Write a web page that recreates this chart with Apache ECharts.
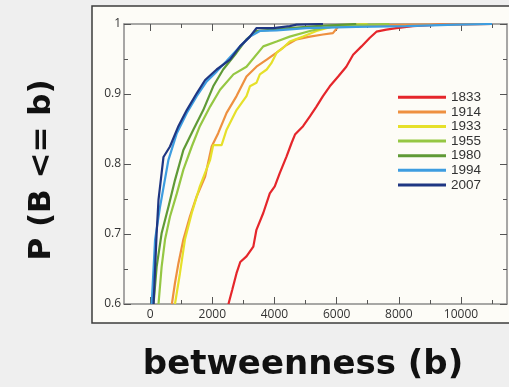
<!DOCTYPE html>
<html>
<head>
<meta charset="utf-8">
<script src="https://cdn.jsdelivr.net/npm/echarts@6/dist/echarts.min.js"></script>
<style>
  html, body { margin: 0; padding: 0; background: #efefef; }
  #chart { width: 509px; height: 387px; }
</style>
</head>
<body>
<div id="chart"></div>
<script>
// betweenness b vs cumulative probability P(B <= b), one array per year
const years = ["1833", "1914", "1933", "1955", "1980", "1994", "2007"];
const colors = ["#e5262b", "#ee9040", "#e6e02a", "#95c743", "#5f9a36", "#3d9de0", "#1f3682"];
const xTicks = [0, 2000, 4000, 6000, 8000, 10000];
const xMinorTicks = [1000, 3000, 5000, 7000, 9000, 11000];

const s1833 = [[2520,0.6],[2640,0.62],[2780,0.644],[2900,0.66],[3100,0.668],[3320,0.682],[3420,0.706],[3640,0.73],[3850,0.758],[4010,0.768],[4170,0.787],[4390,0.811],[4550,0.83],[4660,0.842],[4920,0.854],[5140,0.868],[5350,0.882],[5560,0.897],[5780,0.911],[6050,0.925],[6310,0.939],[6530,0.956],[6800,0.968],[7060,0.98],[7280,0.989],[7600,0.992],[7920,0.994],[8450,0.997],[9300,0.999],[11000,1]];
const s1914 = [[700,0.6],[800,0.63],[910,0.658],[1070,0.692],[1280,0.725],[1500,0.754],[1770,0.782],[1980,0.825],[2190,0.844],[2460,0.873],[2780,0.897],[3100,0.925],[3420,0.939],[3750,0.949],[4070,0.959],[4390,0.97],[4710,0.978],[5140,0.982],[5560,0.985],[5880,0.987],[6050,0.996],[6630,0.998],[8770,0.999],[11000,1]];
const s1933 = [[800,0.6],[960,0.644],[1120,0.692],[1340,0.73],[1600,0.768],[1930,0.806],[2030,0.827],[2300,0.827],[2460,0.849],[2780,0.877],[3100,0.897],[3210,0.911],[3420,0.916],[3530,0.928],[3750,0.935],[3900,0.944],[4070,0.959],[4280,0.966],[4490,0.975],[4920,0.982],[5350,0.99],[5670,0.994],[5990,0.998],[7000,1]];
const s1955 = [[270,0.6],[370,0.653],[480,0.692],[640,0.725],[860,0.758],[1070,0.792],[1340,0.825],[1600,0.854],[1930,0.882],[2250,0.906],[2680,0.928],[3100,0.939],[3640,0.968],[4070,0.975],[4490,0.982],[5140,0.99],[5560,0.994],[6200,0.998],[7700,1]];
const s1980 = [[110,0.6],[210,0.653],[370,0.701],[590,0.739],[800,0.777],[1070,0.82],[1390,0.849],[1710,0.877],[2030,0.911],[2350,0.935],[2780,0.959],[3100,0.978],[3420,0.99],[3960,0.992],[4490,0.994],[5350,0.997],[6630,1]];
const s1994 = [[50,0.6],[160,0.692],[320,0.739],[590,0.806],[860,0.844],[1180,0.873],[1500,0.897],[1820,0.918],[2140,0.932],[2460,0.947],[2890,0.968],[3210,0.982],[3530,0.99],[4070,0.991],[5030,0.994],[6630,0.996],[8240,0.997],[9840,0.999],[11000,1]];
const s2007 = [[110,0.6],[210,0.701],[270,0.749],[370,0.787],[430,0.81],[640,0.825],[910,0.854],[1180,0.877],[1500,0.901],[1770,0.92],[2140,0.935],[2570,0.949],[2890,0.968],[3210,0.982],[3420,0.994],[3960,0.994],[4490,0.997],[4710,0.999],[5560,1]];
const seriesData = [s1833, s1914, s1933, s1955, s1980, s1994, s2007];

const chart = echarts.init(document.getElementById("chart"), null, { renderer: "canvas" });

const tickFont = { color: "#333", fontSize: 12, fontFamily: "Open Sans" };
const lineCol = "#8a8a8a";
const tickStyle = { color: "#555", width: 1 };
const xRange = { type: "value", min: -840, max: 11480, splitLine: { show: false } };
const yRange = { type: "value", min: 0.6, max: 1, interval: 0.1, splitLine: { show: false } };

chart.setOption({
  animation: false,
  backgroundColor: "#efefef",
  grid: { left: 124, right: 2, top: 24, bottom: 83 },
  graphic: [
    { type: "rect", z: -10, silent: true, shape: { x: 92, y: 6, width: 440, height: 317 },
      style: { fill: "#fdfcf7", stroke: "#3c3c3c", lineWidth: 1.5 } },
    { type: "text", x: 303, y: 365,
      style: { text: "betweenness (b)", font: "bold 34px 'DejaVu Sans'", fill: "#111", align: "center", verticalAlign: "middle" } },
    { type: "text", x: 42, y: 170, rotation: Math.PI / 2,
      style: { text: "P (B <= b)", font: "bold 31px 'DejaVu Sans'", fill: "#111", align: "center", verticalAlign: "middle" } },
  ],
  legend: {
    orient: "vertical", left: 393, top: 85, itemGap: 0, itemWidth: 48, itemHeight: 3, icon: "rect",
    data: years,
    textStyle: { color: "#333", fontSize: 13.5, lineHeight: 14.6, fontFamily: "Liberation Sans" },
  },
  xAxis: [
    { ...xRange, position: "bottom",
      axisLine: { onZero: false, lineStyle: { color: lineCol, width: 1.5 } },
      axisTick: { inside: true, length: 7, customValues: xTicks, lineStyle: tickStyle },
      axisLabel: { ...tickFont, margin: 5, customValues: xTicks, formatter: (v) => String(v) } },
    { ...xRange, position: "bottom", axisLine: { show: false, onZero: false },
      axisTick: { inside: true, length: 4, customValues: xMinorTicks, lineStyle: tickStyle },
      axisLabel: { show: false } },
    { ...xRange, position: "top",
      axisLine: { onZero: false, lineStyle: { color: lineCol, width: 1.5 } },
      axisTick: { inside: true, length: 7, customValues: xTicks, lineStyle: tickStyle },
      axisLabel: { show: false } },
    { ...xRange, position: "top", axisLine: { show: false, onZero: false },
      axisTick: { inside: true, length: 4, customValues: xMinorTicks, lineStyle: tickStyle },
      axisLabel: { show: false } },
  ],
  yAxis: [
    { ...yRange, position: "left",
      axisLine: { show: true, onZero: false, lineStyle: { color: lineCol, width: 1.5 } },
      axisTick: { show: true, inside: true, length: 7, lineStyle: tickStyle },
      minorTick: { show: true, splitNumber: 2, length: 4, lineStyle: tickStyle },
      axisLabel: { ...tickFont, margin: 3 } },
    { ...yRange, position: "right",
      axisLine: { show: true, onZero: false, lineStyle: { color: lineCol, width: 1.5 } },
      axisTick: { show: true, inside: true, length: 7, lineStyle: tickStyle },
      minorTick: { show: true, splitNumber: 2, length: 4, lineStyle: tickStyle },
      axisLabel: { show: false } },
  ],
  series: years.map((name, i) => ({
    name,
    type: "line",
    data: seriesData[i],
    xAxisIndex: 0,
    yAxisIndex: 0,
    showSymbol: false,
    symbol: "none",
    color: colors[i],
    lineStyle: { color: colors[i], width: 2.2 },
  })),
});
</script>
</body>
</html>
